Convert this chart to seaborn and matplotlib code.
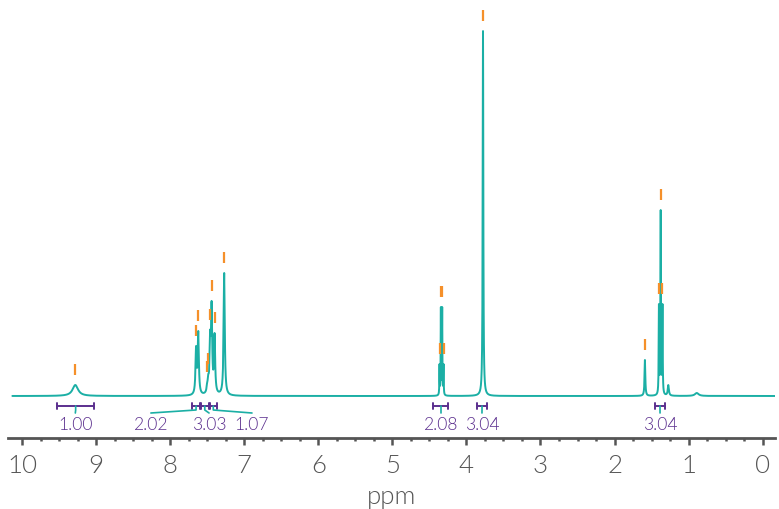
import numpy as np
import pandas as pd
import matplotlib
matplotlib.use("Agg")
import matplotlib.pyplot as plt
from matplotlib.ticker import MultipleLocator
import seaborn as sns

# peak list (ppm, peak height, half width in ppm)
peak_ppm = [9.28, 7.65, 7.62, 7.50, 7.485, 7.46, 7.44, 7.40, 7.27,
            4.363, 4.345, 4.327, 4.309, 3.776, 1.59,
            1.401, 1.377, 1.353, 1.274, 0.89]
peak_height = [11, 50, 65, 14, 22, 66, 95, 63, 123,
               32, 89, 89, 32, 365, 36,
               92, 186, 92, 11, 3]
peak_width = [0.045, 0.009, 0.009, 0.009, 0.009, 0.009, 0.009, 0.009, 0.009,
              0.0028, 0.0028, 0.0028, 0.0028, 0.005, 0.006,
              0.0035, 0.0035, 0.0035, 0.009, 0.03]
# which peaks got a peak-pick marker
peak_marked = [1, 1, 1, 1, 1, 1, 1, 1, 1,
               1, 1, 1, 1, 1, 1,
               1, 1, 1, 0, 0]

# integrals
int_start = [9.527, 7.70, 7.585, 7.465, 4.447, 3.857, 1.454]
int_end = [9.024, 7.60, 7.48, 7.37, 4.245, 3.722, 1.319]
int_label_ppm = [9.28, 8.26, 7.475, 6.895, 4.346, 3.79, 1.386]
int_labels = ['1.00', '2.02', '3.03', '1.07', '2.08', '3.04', '3.04']

teal = '#1BAFA5'
orange = '#F5902A'
purple = '#5B2F8E'
grey = '#555555'

sns.set_style('white')
plt.rcParams['font.family'] = ['Lato', 'DejaVu Sans']
plt.rcParams['font.weight'] = 300


def lorentz(x, x0, w):
    return w ** 2 / ((x - x0) ** 2 + w ** 2)


pos = np.array(peak_ppm)
wid = np.array(peak_width)
# amplitudes so that the summed curve hits the read heights at each peak
A = lorentz(pos[:, None], pos[None, :], wid[None, :])
amps = np.clip(np.linalg.solve(A, np.array(peak_height, float)), 0.5, None)

x = np.linspace(10.13, -0.166, 60000)
y = (amps[None, :] * lorentz(x[:, None], pos[None, :], wid[None, :])).sum(axis=1)
spec = pd.DataFrame({'ppm': x, 'intensity': y})

fig = plt.figure(figsize=(7.79, 5.10), dpi=100)
ax = fig.add_axes([8 / 779, 71 / 510, 767 / 779, 439 / 510])

sns.lineplot(data=spec, x='ppm', y='intensity', color=teal, lw=1.4, ax=ax)

# peak pick marks
for p, h, m in zip(peak_ppm, peak_height, peak_marked):
    if m:
        ax.plot([p, p], [h + 10, h + 21], color=orange, lw=1.6,
                solid_capstyle='butt')

# integral bars, leaders and values
for s, e, lx, lab in zip(int_start, int_end, int_label_ppm, int_labels):
    c = (s + e) / 2
    ax.plot([s, e], [-10, -10], color=purple, lw=1.4)
    ax.plot([s, s], [-7, -13], color=purple, lw=1.4)
    ax.plot([e, e], [-7, -13], color=purple, lw=1.4)
    ax.plot([c, c, lx], [-10, -14, -17], color=teal, lw=1.2)
    ax.text(lx, -33, lab, color=purple, fontsize=12.6, ha='center',
            va='baseline')

ax.set_xlim(10.189, -0.166)
ax.set_ylim(-42, 397)
ax.set_yticks([])
ax.xaxis.set_major_locator(MultipleLocator(1))
ax.xaxis.set_minor_locator(MultipleLocator(0.25))
ax.tick_params(axis='x', which='major', direction='out', length=5, width=1.8,
               color=grey, labelcolor=grey, labelsize=18.6, pad=6, bottom=True)
ax.tick_params(axis='x', which='minor', direction='out', length=2.2, width=1.8,
               color=grey, bottom=True)
for side in ['top', 'left', 'right']:
    ax.spines[side].set_visible(False)
ax.spines['bottom'].set_color(grey)
ax.spines['bottom'].set_linewidth(2)
ax.set_xlabel('ppm', color=grey, fontsize=18.6, fontweight=300, labelpad=5)
ax.set_ylabel('')

fig.savefig('out.png', dpi=100)
